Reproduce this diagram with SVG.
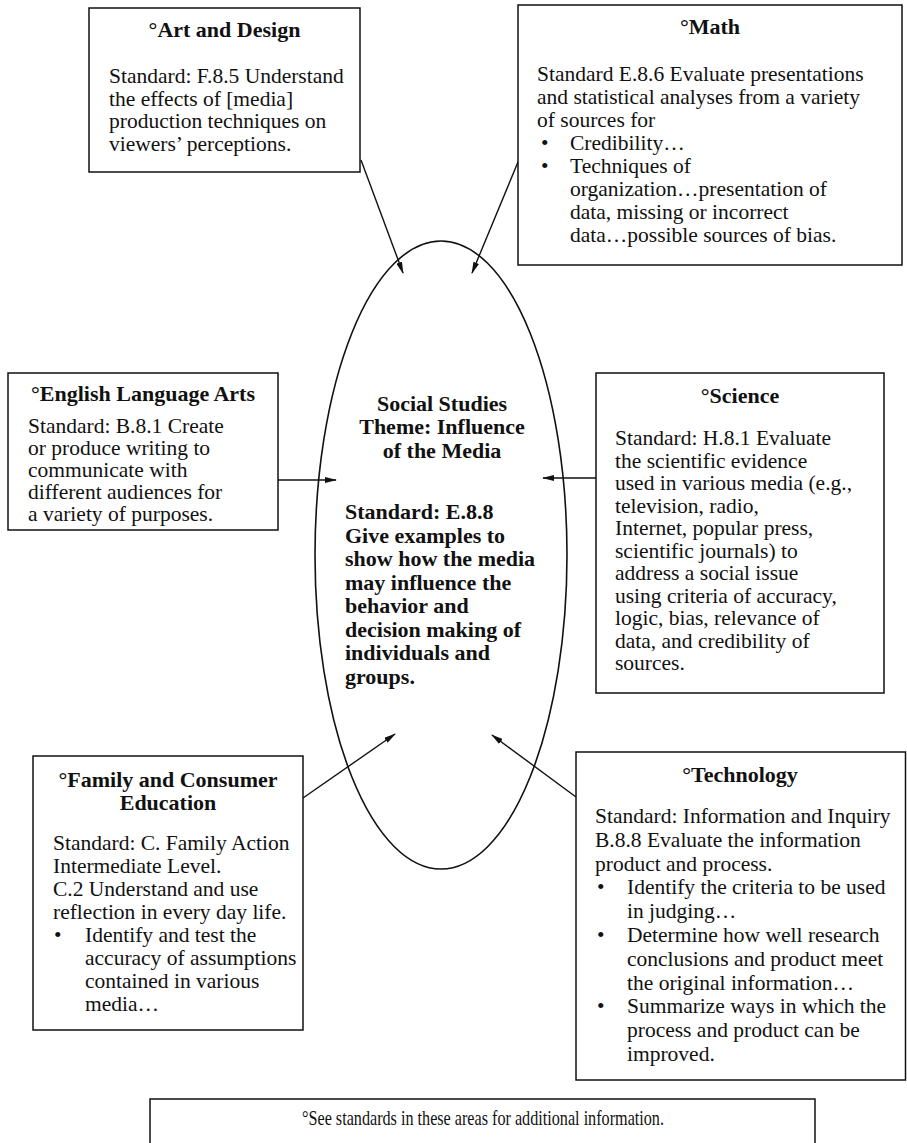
<svg xmlns="http://www.w3.org/2000/svg" width="907" height="1143" viewBox="0 0 907 1143">
  <style>
    .box { fill: #ffffff; stroke: #111111; stroke-width: 1.5; }
    .hub { fill: none; stroke: #111111; stroke-width: 1.6; }
    .title { font-family: "Liberation Serif", "Times New Roman", serif; font-weight: bold; font-size: 22px; fill: #111111; text-anchor: middle; }
    .body { font-family: "Liberation Serif", "Times New Roman", serif; font-size: 21.5px; fill: #111111; }
    .hubtext { font-family: "Liberation Serif", "Times New Roman", serif; font-weight: bold; font-size: 22px; fill: #111111; }
    .note { font-family: "Liberation Serif", "Times New Roman", serif; font-size: 21px; fill: #111111; text-anchor: middle; }
    .link { fill: none; stroke: #111111; stroke-width: 1.4; marker-end: url(#arrow); }
  </style>
  <defs>
    <marker id="arrow" markerWidth="12" markerHeight="6" refX="11" refY="3" orient="auto" markerUnits="userSpaceOnUse">
      <path d="M0,0 L12,3 L0,6 z" fill="#111111"/>
    </marker>
  </defs>

  <rect width="907" height="1143" fill="#ffffff"/>

  <!-- central theme -->
  <g id="hub">
    <ellipse class="hub" cx="441" cy="555" rx="126" ry="314"/>
    <text class="title" x="442" y="411">Social Studies</text>
    <text class="title" x="442" y="434">Theme: Influence</text>
    <text class="title" x="442" y="458">of the Media</text>
    <text class="hubtext" x="345" y="519">Standard: E.8.8</text>
    <text class="hubtext" x="345" y="543">Give examples to</text>
    <text class="hubtext" x="345" y="566">show how the media</text>
    <text class="hubtext" x="345" y="590">may influence the</text>
    <text class="hubtext" x="345" y="613">behavior and</text>
    <text class="hubtext" x="345" y="637">decision making of</text>
    <text class="hubtext" x="345" y="660">individuals and</text>
    <text class="hubtext" x="345" y="684">groups.</text>
  </g>

  <g id="art-design">
    <rect class="box" x="89" y="8" width="271" height="164"/>
    <text class="title" x="224.5" y="37">°Art and Design</text>
    <text class="body" x="109" y="83">Standard: F.8.5 Understand</text>
    <text class="body" x="109" y="105.5">the effects of [media]</text>
    <text class="body" x="109" y="128">production techniques on</text>
    <text class="body" x="109" y="150.5">viewers’ perceptions.</text>
  </g>

  <g id="math">
    <rect class="box" x="518" y="5" width="384" height="260"/>
    <text class="title" x="710" y="34">°Math</text>
    <text class="body" x="537" y="81">Standard E.8.6 Evaluate presentations</text>
    <text class="body" x="537" y="104">and statistical analyses from a variety</text>
    <text class="body" x="537" y="127">of sources for</text>
    <text class="body" x="541" y="150">•</text>
    <text class="body" x="570" y="150">Credibility…</text>
    <text class="body" x="541" y="173">•</text>
    <text class="body" x="570" y="173">Techniques of</text>
    <text class="body" x="570" y="196">organization…presentation of</text>
    <text class="body" x="570" y="219">data, missing or incorrect</text>
    <text class="body" x="570" y="242">data…possible sources of bias.</text>
  </g>

  <g id="english">
    <rect class="box" x="8" y="373" width="270" height="157"/>
    <text class="title" x="143" y="401">°English Language Arts</text>
    <text class="body" x="28" y="433">Standard: B.8.1 Create</text>
    <text class="body" x="28" y="455">or produce writing to</text>
    <text class="body" x="28" y="477">communicate with</text>
    <text class="body" x="28" y="499">different audiences for</text>
    <text class="body" x="28" y="521">a variety of purposes.</text>
  </g>

  <g id="science">
    <rect class="box" x="596" y="373" width="288" height="320"/>
    <text class="title" x="740" y="403">°Science</text>
    <text class="body" x="615" y="445">Standard: H.8.1 Evaluate</text>
    <text class="body" x="615" y="467.5">the scientific evidence</text>
    <text class="body" x="615" y="490">used in various media (e.g.,</text>
    <text class="body" x="615" y="512.5">television, radio,</text>
    <text class="body" x="615" y="535">Internet, popular press,</text>
    <text class="body" x="615" y="557.5">scientific journals) to</text>
    <text class="body" x="615" y="580">address a social issue</text>
    <text class="body" x="615" y="602.5">using criteria of accuracy,</text>
    <text class="body" x="615" y="625">logic, bias, relevance of</text>
    <text class="body" x="615" y="647.5">data, and credibility of</text>
    <text class="body" x="615" y="670">sources.</text>
  </g>

  <g id="family">
    <rect class="box" x="33" y="756" width="270" height="274"/>
    <text class="title" x="168" y="787">°Family and Consumer</text>
    <text class="title" x="168" y="810">Education</text>
    <text class="body" x="53" y="850">Standard: C. Family Action</text>
    <text class="body" x="53" y="873">Intermediate Level.</text>
    <text class="body" x="53" y="896">C.2 Understand and use</text>
    <text class="body" x="53" y="919">reflection in every day life.</text>
    <text class="body" x="54" y="942">•</text>
    <text class="body" x="85" y="942">Identify and test the</text>
    <text class="body" x="85" y="965">accuracy of assumptions</text>
    <text class="body" x="85" y="988">contained in various</text>
    <text class="body" x="85" y="1011">media…</text>
  </g>

  <g id="technology">
    <rect class="box" x="576" y="752" width="329.5" height="328"/>
    <text class="title" x="740" y="782">°Technology</text>
    <text class="body" x="595" y="823">Standard: Information and Inquiry</text>
    <text class="body" x="595" y="847">B.8.8 Evaluate the information</text>
    <text class="body" x="595" y="871">product and process.</text>
    <text class="body" x="597" y="894">•</text>
    <text class="body" x="627" y="894">Identify the criteria to be used</text>
    <text class="body" x="627" y="918">in judging…</text>
    <text class="body" x="597" y="942">•</text>
    <text class="body" x="627" y="942">Determine how well research</text>
    <text class="body" x="627" y="966">conclusions and product meet</text>
    <text class="body" x="627" y="990">the original information…</text>
    <text class="body" x="597" y="1013">•</text>
    <text class="body" x="627" y="1013">Summarize ways in which the</text>
    <text class="body" x="627" y="1037">process and product can be</text>
    <text class="body" x="627" y="1061">improved.</text>
  </g>

  <g id="footnote">
    <rect class="box" x="150" y="1099" width="665" height="60"/>
    <text class="note" x="483" y="1125" textLength="362" lengthAdjust="spacingAndGlyphs">°See standards in these areas for additional information.</text>
  </g>

  <!-- connectors: each subject box points into the central theme -->
  <g id="connectors">
    <line class="link" x1="361" y1="160" x2="403" y2="273"/>
    <line class="link" x1="518" y1="162" x2="472" y2="273"/>
    <line class="link" x1="278" y1="480" x2="336" y2="480"/>
    <line class="link" x1="596" y1="478" x2="543" y2="478"/>
    <line class="link" x1="303" y1="798" x2="395" y2="734"/>
    <line class="link" x1="576" y1="797" x2="492" y2="735"/>
  </g>
</svg>
